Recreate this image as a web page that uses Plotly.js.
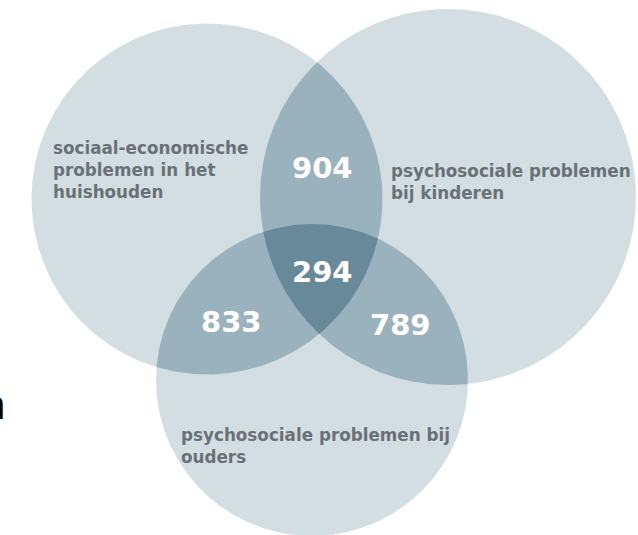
<!DOCTYPE html>
<html>
<head>
<meta charset="utf-8">
<script src="https://cdn.plot.ly/plotly-3.0.1.min.js"></script>
<style>html,body{margin:0;padding:0;background:#fff;}#chart{width:638px;height:535px;}</style>
</head>
<body>
<div id="chart"></div>
<script>
// ---- data ----
const setNames = ['sociaal-economische<br>problemen in het<br>huishouden',
                  'psychosociale problemen<br>bij kinderen',
                  'psychosociale problemen bij<br>ouders'];
const overlapSets = [[0, 1], [0, 2], [1, 2], [0, 1, 2]];
const overlapValues = [904, 833, 789, 294];

// ---- layout geometry (pixel-like axis units) ----
const circles = [
  {cx: 207, cy: 199, r: 175.5},
  {cx: 448, cy: 197, r: 188},
  {cx: 312, cy: 380, r: 156}
];
const setLabelPos = [{x: 51, y: 170}, {x: 389, y: 182}, {x: 179, y: 446}];
const valuePos = [{x: 322, y: 168}, {x: 231, y: 322}, {x: 400, y: 325}, {x: 322, y: 272}];
const fillColors = {1: '#d3dee3', 2: '#9ab2be', 3: '#67899a'};

function inside(p, c) {
  const dx = p.x - c.cx, dy = p.y - c.cy;
  return dx * dx + dy * dy <= c.r * c.r + 1e-6;
}
function regionPath(idxs) {
  const N = 720, pts = [];
  idxs.forEach(i => {
    const c = circles[i];
    for (let k = 0; k < N; k++) {
      const t = 2 * Math.PI * k / N;
      const p = {x: c.cx + c.r * Math.cos(t), y: c.cy + c.r * Math.sin(t)};
      if (idxs.every(j => j === i || inside(p, circles[j]))) pts.push(p);
    }
  });
  const mx = pts.reduce((s, p) => s + p.x, 0) / pts.length;
  const my = pts.reduce((s, p) => s + p.y, 0) / pts.length;
  pts.sort((a, b) => Math.atan2(a.y - my, a.x - mx) - Math.atan2(b.y - my, b.x - mx));
  pts.push(pts[0]);
  return {x: pts.map(p => p.x), y: pts.map(p => p.y)};
}

const traces = [];
[[0], [1], [2]].concat(overlapSets).forEach(idxs => {
  const path = regionPath(idxs);
  traces.push({
    type: 'scatter', mode: 'lines', x: path.x, y: path.y,
    fill: 'toself', fillcolor: fillColors[idxs.length],
    line: {width: 0, color: fillColors[idxs.length]},
    hoverinfo: 'skip', showlegend: false
  });
});

const annotations = [];
setNames.forEach((t, i) => annotations.push({
  xref: 'x', yref: 'y', x: setLabelPos[i].x, y: setLabelPos[i].y,
  xanchor: 'left', yanchor: 'middle', align: 'left', showarrow: false,
  text: '<b>' + t + '</b>',
  font: {family: 'DejaVu Sans', size: 16.8, color: '#6a7176'}
}));
overlapValues.forEach((v, i) => annotations.push({
  xref: 'x', yref: 'y', x: valuePos[i].x, y: valuePos[i].y,
  xanchor: 'center', yanchor: 'middle', showarrow: false,
  text: '<b>' + v + '</b>',
  font: {family: 'DejaVu Sans', size: 29, color: '#ffffff'}
}));
annotations.push({
  xref: 'x', yref: 'y', x: 7, y: 405, xanchor: 'right', yanchor: 'middle',
  showarrow: false, text: 'n', font: {family: 'Liberation Sans', size: 40, color: '#000000'}
});

const layout = {
  width: 638, height: 535,
  margin: {l: 0, r: 0, t: 0, b: 0, pad: 0},
  paper_bgcolor: '#ffffff', plot_bgcolor: '#ffffff',
  xaxis: {range: [0, 638], visible: false, fixedrange: true},
  yaxis: {range: [535, 0], visible: false, fixedrange: true},
  showlegend: false,
  annotations: annotations
};
Plotly.newPlot('chart', traces, layout, {staticPlot: true, displayModeBar: false});
</script>
</body>
</html>
